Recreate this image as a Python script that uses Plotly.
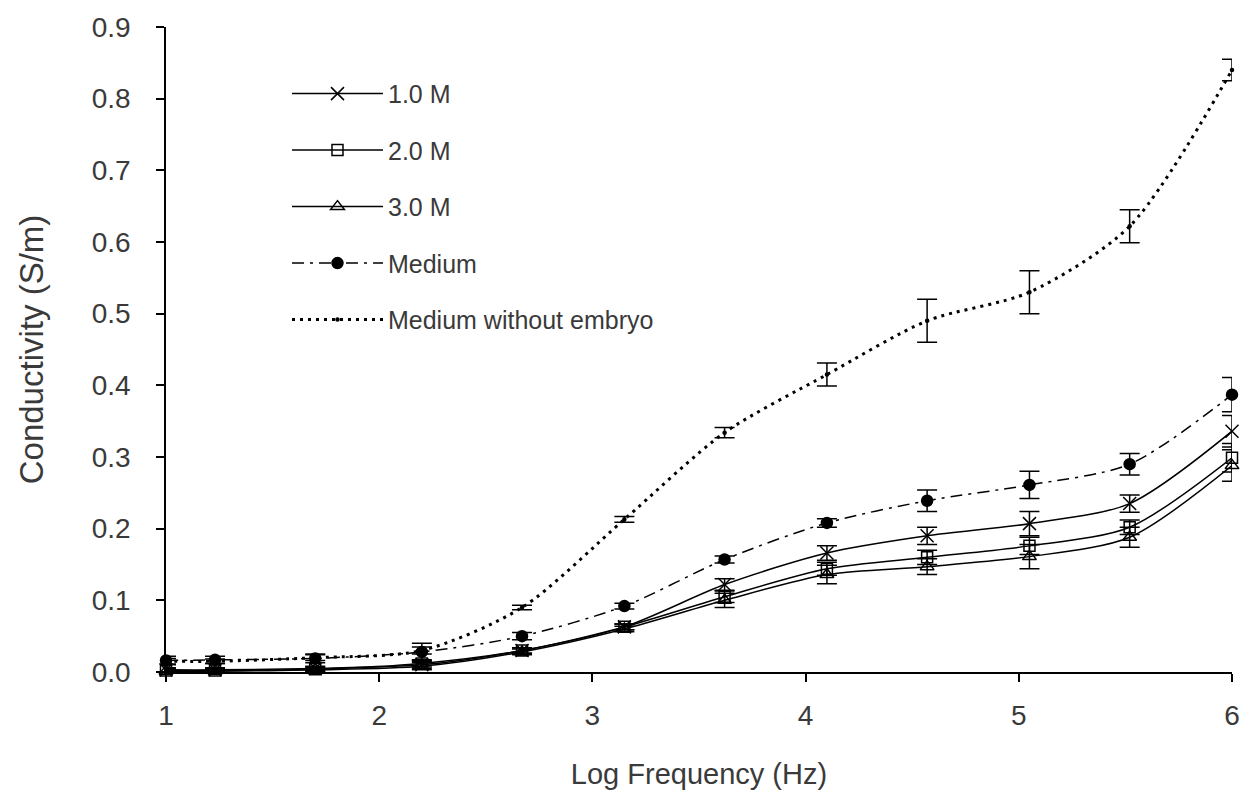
import plotly.graph_objects as go

log_freq = [1.0, 1.23, 1.7, 2.2, 2.67, 3.15, 3.62, 4.1, 4.57, 5.05, 5.52, 6.0]

m10 = [0.003, 0.003, 0.005, 0.010, 0.030, 0.063, 0.122, 0.166, 0.190, 0.207, 0.235, 0.336]
m10_err = [0.003, 0.003, 0.003, 0.005, 0.004, 0.004, 0.008, 0.010, 0.012, 0.017, 0.012, 0.022]

m20 = [0.002, 0.002, 0.004, 0.012, 0.030, 0.063, 0.105, 0.144, 0.160, 0.176, 0.202, 0.299]
m20_err = [0.003, 0.003, 0.003, 0.005, 0.004, 0.004, 0.008, 0.009, 0.010, 0.012, 0.010, 0.020]

m30 = [0.001, 0.001, 0.003, 0.008, 0.028, 0.060, 0.100, 0.136, 0.147, 0.161, 0.188, 0.288]
m30_err = [0.003, 0.003, 0.003, 0.005, 0.004, 0.004, 0.010, 0.013, 0.011, 0.017, 0.014, 0.022]

medium = [0.016, 0.017, 0.019, 0.028, 0.050, 0.092, 0.157, 0.208, 0.239, 0.261, 0.290, 0.387]
medium_err = [0.006, 0.005, 0.006, 0.012, 0.005, 0.004, 0.005, 0.006, 0.015, 0.019, 0.015, 0.024]

no_embryo = [0.015, 0.015, 0.020, 0.030, 0.090, 0.213, 0.334, 0.415, 0.490, 0.530, 0.622, 0.840]
no_embryo_err = [0.004, 0.003, 0.004, 0.005, 0.003, 0.004, 0.007, 0.016, 0.030, 0.030, 0.023, 0.015]

x_ticks = [1, 2, 3, 4, 5, 6]
y_ticks = [0.0, 0.1, 0.2, 0.3, 0.4, 0.5, 0.6, 0.7, 0.8, 0.9]

FONT = "Liberation Sans, Arial, sans-serif"
TXT = "#3a3a3a"

fig = go.Figure()


def add(name, y, err, symbol, size, dash, width, group):
    fig.add_trace(go.Scatter(
        x=log_freq, y=y, name=name, mode="lines+markers",
        legendgroup=group,
        line=dict(color="black", width=width, dash=dash, shape="spline", smoothing=0.8),
        marker=dict(symbol=symbol, size=size, color="black",
                    line=dict(color="black", width=1.5)),
        error_y=dict(type="data", array=err, visible=True, color="black",
                     thickness=1.5, width=10),
        cliponaxis=False,
    ))


add("1.0 M", m10, m10_err, "x-thin-open", 13, "solid", 1.5, "a")
add("2.0 M", m20, m20_err, "square-open", 11, "solid", 1.5, "b")
add("3.0 M", m30, m30_err, "triangle-up-open", 12, "solid", 1.5, "c")
add("Medium", medium, medium_err, "circle", 11, "12px,6px,3px,6px", 1.5, "d")
add("Medium without embryo", no_embryo, no_embryo_err, "circle", 3, "3px,5px", 3, "e")

fig.update_layout(
    width=1259, height=799,
    paper_bgcolor="white", plot_bgcolor="white",
    margin=dict(l=166, r=27, t=24, b=127),
    font=dict(family=FONT, size=28, color=TXT),
    showlegend=True,
    legend=dict(
        x=0.1135, y=0.932, xanchor="left", yanchor="top",
        font=dict(family=FONT, size=25, color=TXT),
        bgcolor="rgba(0,0,0,0)", tracegroupgap=21,
        itemwidth=91,
    ),
    xaxis=dict(
        range=[1, 6], tickvals=x_ticks, ticktext=[str(v) for v in x_ticks],
        showline=True, linecolor="black", linewidth=1.5,
        ticks="outside", ticklen=8, tickcolor="black", tickwidth=1.5,
        ticklabelstandoff=10,
        showgrid=False, zeroline=False,
        title=dict(text="Log Frequency (Hz)", font=dict(size=29, color=TXT), standoff=33),
        tickfont=dict(size=28, color=TXT),
    ),
    yaxis=dict(
        range=[0, 0.9], tickvals=y_ticks, ticktext=[f"{v:.1f}" for v in y_ticks],
        showline=True, linecolor="black", linewidth=1.5,
        ticks="outside", ticklen=8, tickcolor="black", tickwidth=1.5,
        ticklabelstandoff=20,
        showgrid=False, zeroline=False,
        title=dict(text="Conductivity (S/m)", font=dict(size=33, color=TXT), standoff=38),
        tickfont=dict(size=28, color=TXT),
    ),
)

fig.write_html("out.html")
